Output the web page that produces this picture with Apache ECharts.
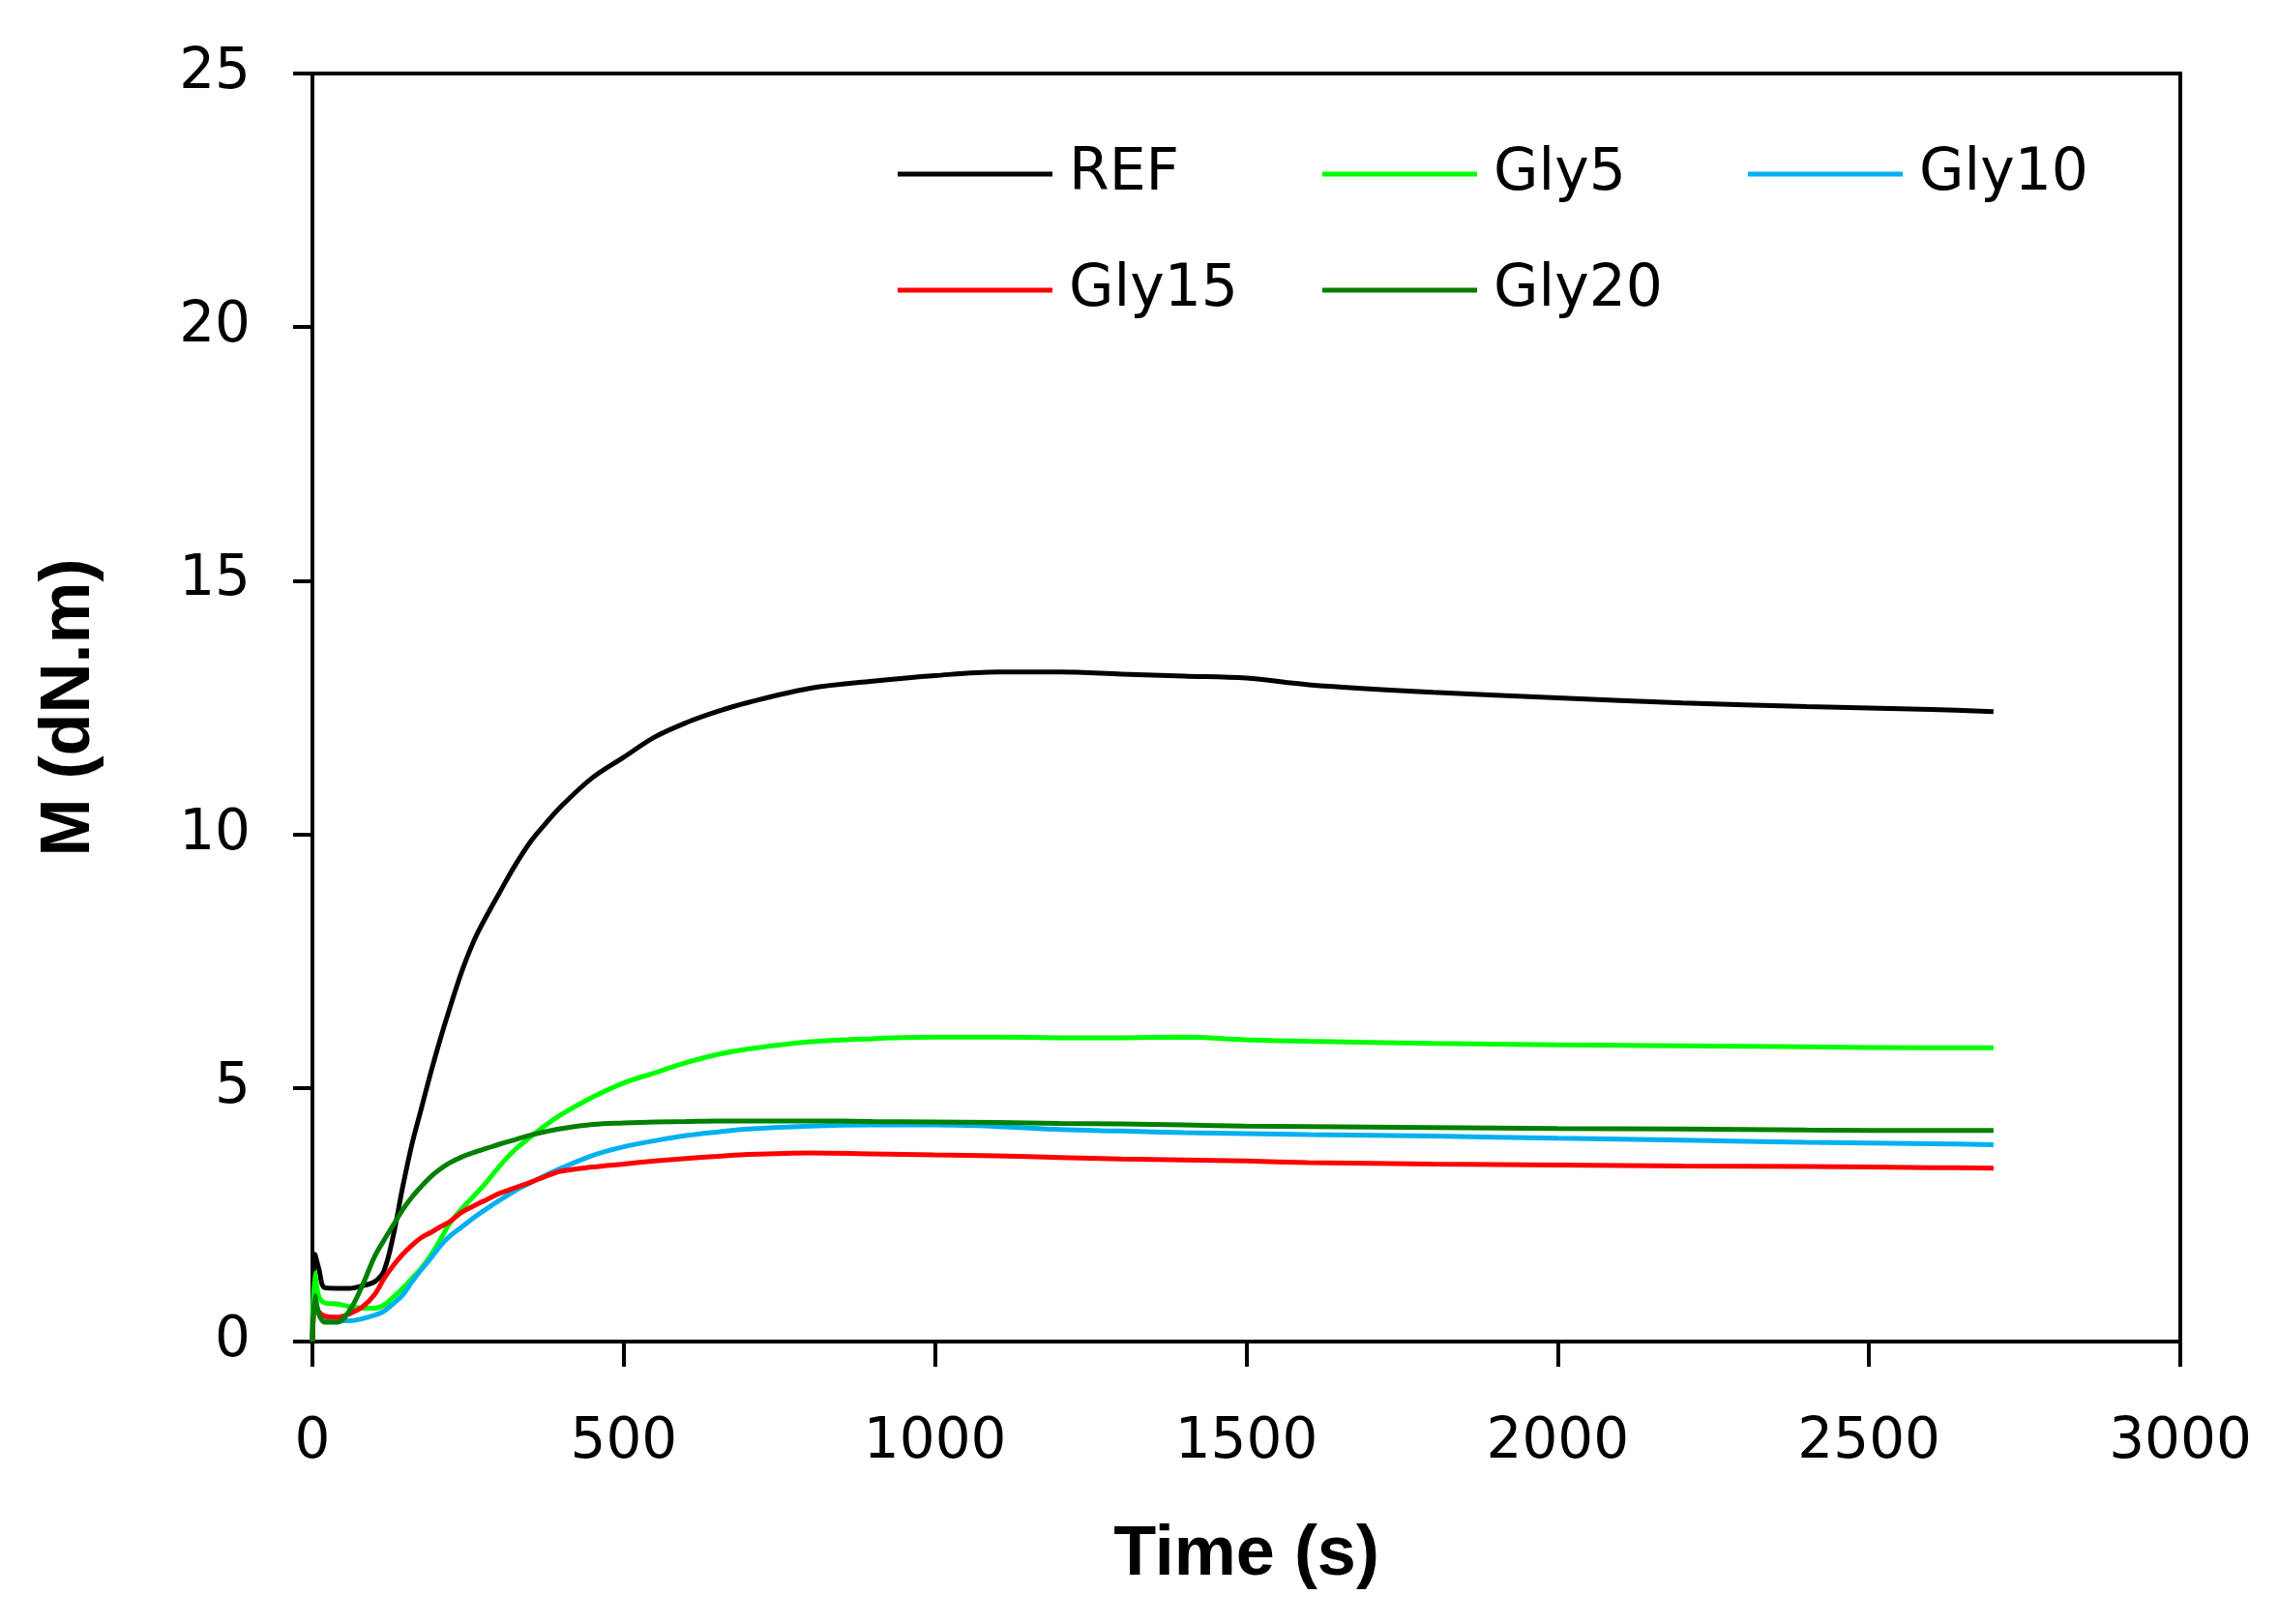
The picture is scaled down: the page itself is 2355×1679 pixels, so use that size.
<!DOCTYPE html>
<html>
<head>
<meta charset="utf-8">
<script src="https://cdn.jsdelivr.net/npm/echarts@6/dist/echarts.min.js"></script>
<style>
html,body{margin:0;padding:0;background:#fff;}
#chart{width:2355px;height:1679px;}
</style>
</head>
<body>
<div id="chart"></div>
<script>
// Time (s)
const time = [0, 4, 10, 20, 40, 60, 80, 100, 115, 130, 145, 160, 175, 190, 205, 220, 240, 260, 280, 300, 325, 350, 375, 400, 450, 500, 550, 600, 650, 700, 800, 900, 1000, 1100, 1200, 1300, 1400, 1500, 1600, 1800, 2000, 2200, 2400, 2600, 2700];
// M (dN.m)
const ref   = [0, 1.72, 1.45, 1.06, 1.05, 1.05, 1.1, 1.18, 1.4, 2.1, 3.05, 3.9, 4.6, 5.3, 5.95, 6.55, 7.3, 7.92, 8.4, 8.84, 9.38, 9.85, 10.22, 10.56, 11.12, 11.52, 11.92, 12.2, 12.42, 12.6, 12.88, 13.02, 13.13, 13.2, 13.2, 13.16, 13.12, 13.08, 12.95, 12.8, 12.69, 12.59, 12.52, 12.46, 12.42];
const gly5  = [0, 1.35, 0.9, 0.76, 0.74, 0.69, 0.66, 0.66, 0.72, 0.88, 1.05, 1.25, 1.45, 1.7, 2.0, 2.32, 2.62, 2.88, 3.15, 3.45, 3.78, 4.03, 4.27, 4.48, 4.82, 5.1, 5.3, 5.5, 5.66, 5.77, 5.91, 5.97, 6.0, 6.0, 5.99, 5.99, 6.0, 5.95, 5.92, 5.88, 5.85, 5.83, 5.81, 5.79, 5.79];
const gly10 = [0, 0.85, 0.6, 0.47, 0.42, 0.41, 0.45, 0.52, 0.6, 0.75, 0.92, 1.18, 1.42, 1.64, 1.88, 2.07, 2.26, 2.45, 2.62, 2.78, 2.97, 3.13, 3.28, 3.42, 3.67, 3.84, 3.96, 4.06, 4.13, 4.19, 4.25, 4.27, 4.27, 4.24, 4.18, 4.15, 4.12, 4.1, 4.08, 4.05, 4.01, 3.97, 3.93, 3.9, 3.88];
const gly15 = [0, 0.7, 0.58, 0.5, 0.48, 0.55, 0.68, 0.93, 1.24, 1.5, 1.72, 1.9, 2.05, 2.15, 2.26, 2.36, 2.55, 2.68, 2.8, 2.92, 3.03, 3.14, 3.26, 3.36, 3.44, 3.5, 3.56, 3.61, 3.65, 3.69, 3.72, 3.7, 3.68, 3.66, 3.63, 3.6, 3.58, 3.56, 3.53, 3.5, 3.48, 3.46, 3.45, 3.43, 3.42];
const gly20 = [0, 0.9, 0.55, 0.38, 0.38, 0.62, 1.1, 1.68, 2.0, 2.3, 2.6, 2.85, 3.06, 3.25, 3.4, 3.52, 3.64, 3.73, 3.81, 3.89, 3.98, 4.07, 4.14, 4.2, 4.28, 4.31, 4.33, 4.34, 4.35, 4.35, 4.35, 4.34, 4.33, 4.32, 4.3, 4.29, 4.27, 4.25, 4.24, 4.22, 4.2, 4.19, 4.17, 4.16, 4.16];

const seriesNames = ['REF', 'Gly5', 'Gly10', 'Gly15', 'Gly20'];
const seriesValues = [ref, gly5, gly10, gly15, gly20];
const seriesColors = ['#000000', '#00FF00', '#00B0F0', '#FF0000', '#008000'];

const xTicks = [0, 500, 1000, 1500, 2000, 2500, 3000];
const yTicks = [0, 5, 10, 15, 20, 25];

const FONT = 'DejaVu Sans';
const legendPos = [[928, 150], [1367, 150], [1807, 150], [928, 270], [1367, 270]];

const chart = echarts.init(document.getElementById('chart'), null, {renderer: 'canvas'});
chart.setOption({
  backgroundColor: '#ffffff',
  animation: false,
  grid: {
    left: 323, right: 101, top: 76, bottom: 292,
    show: true, borderColor: '#000', borderWidth: 4, backgroundColor: 'transparent'
  },
  legend: seriesNames.map((n, i) => ({
    data: [n],
    left: legendPos[i][0],
    top: legendPos[i][1],
    padding: 0,
    itemWidth: 160,
    itemHeight: 5,
    icon: 'rect',
    itemStyle: {color: seriesColors[i]},
    selectedMode: false,
    textStyle: {fontFamily: FONT, fontSize: 60, color: '#000', padding: [0, 0, 0, 12]}
  })),
  xAxis: {
    type: 'value',
    min: xTicks[0], max: xTicks[xTicks.length - 1], interval: 500,
    name: 'Time (s)',
    nameLocation: 'middle',
    nameGap: 185,
    nameTextStyle: {fontFamily: 'Liberation Sans', fontWeight: 'bold', fontSize: 72, color: '#000'},
    axisLine: {show: true, onZero: false, lineStyle: {color: '#000', width: 4}},
    axisTick: {show: true, inside: false, length: 26, lineStyle: {color: '#000', width: 4}},
    axisLabel: {fontFamily: FONT, fontSize: 58, color: '#000', margin: 76, formatter: v => String(v)},
    splitLine: {show: false}
  },
  yAxis: {
    type: 'value',
    min: yTicks[0], max: yTicks[yTicks.length - 1], interval: 5,
    name: 'M (dN.m)',
    nameLocation: 'middle',
    nameGap: 215,
    nameRotate: 90,
    nameTextStyle: {fontFamily: 'Liberation Sans', fontWeight: 'bold', fontSize: 72, color: '#000'},
    axisLine: {show: true, onZero: false, lineStyle: {color: '#000', width: 4}},
    axisTick: {show: true, inside: false, length: 20, lineStyle: {color: '#000', width: 4}},
    axisLabel: {fontFamily: FONT, fontSize: 58, color: '#000', margin: 64, formatter: v => String(v)},
    splitLine: {show: false}
  },
  series: seriesNames.map((n, i) => ({
    name: n,
    type: 'line',
    data: time.map((t, j) => [t, seriesValues[i][j]]),
    symbol: 'none',
    smooth: 0.35,
    lineStyle: {color: seriesColors[i], width: 5},
    itemStyle: {color: seriesColors[i]},
    z: 2
  }))
});
</script>
</body>
</html>
